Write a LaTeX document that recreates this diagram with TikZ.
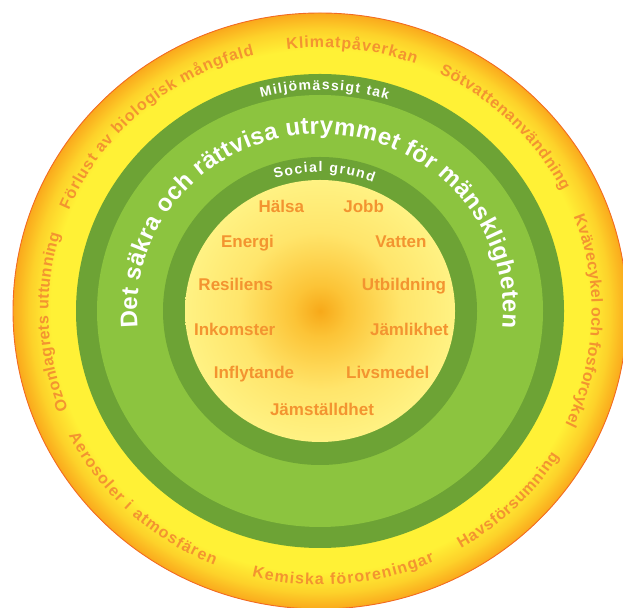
\documentclass[tikz,border=0pt]{standalone}
\usepackage{fontspec}
\setmainfont{Liberation Sans}
\usetikzlibrary{decorations.text}

\definecolor{ryellow}{HTML}{FFF136}
\definecolor{rmid}{HTML}{FDD22A}
\definecolor{rorange}{HTML}{FAA91C}
\definecolor{rline}{HTML}{F26A21}
\definecolor{gdark}{HTML}{6DA335}
\definecolor{glight}{HTML}{8CC43F}
\definecolor{sunc}{HTML}{F7A919}
\definecolor{sunm}{HTML}{FCC437}
\definecolor{sunl}{HTML}{FFE56B}
\definecolor{sune}{HTML}{FFF283}
\definecolor{lbl}{HTML}{F39430}

\pgfdeclareradialshading{outerglow}{\pgfpoint{0bp}{0bp}}{color(0bp)=(ryellow); color(21.9bp)=(ryellow); color(23.6bp)=(rmid); color(25bp)=(rorange); color(50bp)=(rorange)}
\pgfdeclareradialshading{innersun}{\pgfpoint{0bp}{0bp}}{color(0bp)=(sunc); color(5bp)=(sunm); color(15bp)=(sunl); color(25bp)=(sune); color(50bp)=(sune)}

\newcommand{\outerfont}{\fontsize{16}{19}\selectfont\bfseries}
\newcommand{\innerfont}{\fontsize{17}{20}\selectfont\bfseries}
\newcommand{\ringfont}{\fontsize{14}{17}\selectfont\bfseries}
\newcommand{\bigfont}{\fontsize{24}{28}\selectfont\bfseries}

\tikzset{
  innerlabel/.style={anchor=base, inner sep=0pt, text=lbl, font=\innerfont},
  curvedlabel/.style={decorate, decoration={text along path, text align={fit to path}, text={#1}}}
}

\begin{document}
\begin{tikzpicture}[x=1pt,y=1pt]
\useasboundingbox (0,0) rectangle (623,607);
\coordinate (C) at (320,296);
\begin{scope}
\clip (0,0) rectangle (623,607);
\path[shading=outerglow] (C) ellipse [x radius=307, y radius=298];
\draw[rline, line width=0.9pt] (C) ellipse [x radius=307, y radius=298];
\fill[gdark] (C) ellipse [x radius=244, y radius=237];
\fill[glight] (C) ellipse [x radius=223, y radius=216];
\fill[gdark] (C) ellipse [x radius=157, y radius=154];
\path[shading=innersun] (C) ellipse [x radius=135, y radius=131];
\end{scope}

% outer labels, clockwise (tops outward)
\path[curvedlabel={|\outerfont\color{lbl}|Klimatpåverkan}]
  ([shift={(C)}]97:271.7 and 263.7) arc[start angle=97, end angle=69.4, x radius=271.7, y radius=263.7];
\path[curvedlabel={|\outerfont\color{lbl}|Sötvattenanvändning}]
  ([shift={(C)}]64:271.7 and 263.7) arc[start angle=64, end angle=27, x radius=271.7, y radius=263.7];
\path[curvedlabel={|\outerfont\color{lbl}|Kvävecykel och fosforcykel}]
  ([shift={(C)}]21:271.7 and 263.7) arc[start angle=21, end angle=-25.5, x radius=271.7, y radius=263.7];
\path[curvedlabel={|\outerfont\color{lbl}|Ozonlagrets uttunning}]
  ([shift={(C)}]202:271.7 and 263.7) arc[start angle=202, end angle=163, x radius=271.7, y radius=263.7];
\path[curvedlabel={|\outerfont\color{lbl}|Förlust av biologisk mångfald}]
  ([shift={(C)}]157.5:271.7 and 263.7) arc[start angle=157.5, end angle=104, x radius=271.7, y radius=263.7];

% outer labels, counter-clockwise (tops inward)
\path[curvedlabel={|\outerfont\color{lbl}|Aerosoler i atmosfären}]
  ([shift={(C)}]207:282 and 274) arc[start angle=207, end angle=248, x radius=282, y radius=274];
\path[curvedlabel={|\outerfont\color{lbl}|Kemiska föroreningar}]
  ([shift={(C)}]256:282 and 274) arc[start angle=256, end angle=294, x radius=282, y radius=274];
\path[curvedlabel={|\outerfont\color{lbl}|Havsförsumning}]
  ([shift={(C)}]300:282 and 274) arc[start angle=300, end angle=328, x radius=282, y radius=274];

% ring labels
\path[curvedlabel={|\ringfont\color{white}|Miljömässigt tak}]
  ([shift={(C)}]105:227 and 221) arc[start angle=105, end angle=72.6, x radius=227, y radius=221];
\path[curvedlabel={|\ringfont\color{white}|Social grund}]
  ([shift={(C)}]108.3:143 and 139) arc[start angle=108.3, end angle=68.2, x radius=143, y radius=139];
\path[curvedlabel={|\bigfont\color{white}|Det säkra och rättvisa utrymmet för mänskligheten}]
  ([shift={(C)}]185.5:183 and 177) arc[start angle=185.5, end angle=-5.5, x radius=183, y radius=177];

% inner labels
\node[innerlabel] (halsa) at (281.3,394.7) {Hälsa};
\node[innerlabel] (jobb) at (363.7,394.7) {Jobb};
\node[innerlabel] (energi) at (247.5,359) {Energi};
\node[innerlabel] (vatten) at (401,359) {Vatten};
\node[innerlabel] (resiliens) at (235.8,316) {Resiliens};
\node[innerlabel] (utbildning) at (404,316) {Utbildning};
\node[innerlabel] (inkomster) at (234.7,271.7) {Inkomster};
\node[innerlabel] (jamlikhet) at (409.3,271.7) {Jämlikhet};
\node[innerlabel] (inflytande) at (254,228.3) {Inflytande};
\node[innerlabel] (livsmedel) at (387.7,228.3) {Livsmedel};
\node[innerlabel] (jamstalldhet) at (322,191) {Jämställdhet};
\end{tikzpicture}
\end{document}
